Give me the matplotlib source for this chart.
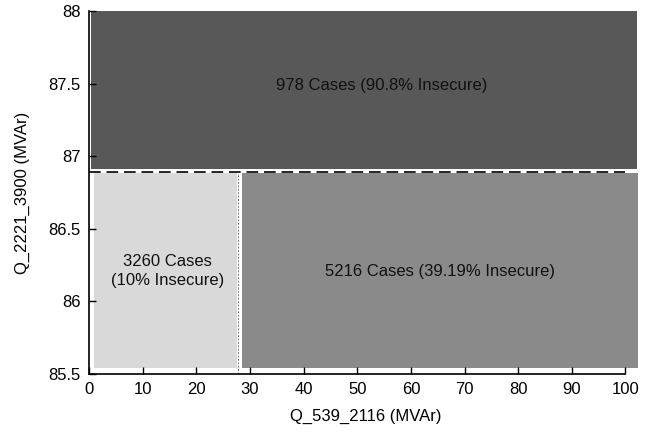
import matplotlib.pyplot as plt
from matplotlib.patches import Rectangle

plt.rcParams['font.family'] = ['Liberation Sans', 'DejaVu Sans']

# regions: x0, x1, y0, y1
region_x0 = [0.3, 1.0, 28.6]
region_x1 = [102.2, 27.6, 102.3]
region_y0 = [86.91, 85.54, 85.54]
region_y1 = [88.0, 86.885, 86.885]
region_colors = ['#585858', '#d9d9d9', '#8a8a8a']
region_labels = ['978 Cases (90.8% Insecure)', '3260 Cases\n(10% Insecure)', '5216 Cases (39.19% Insecure)']
label_x = [54.5, 14.7, 65.5]
label_y = [87.488, 86.21, 86.204]

split_y = 86.895   # Q_2221_3900 split
split_x = 27.75    # Q_539_2116 split

xticks = [0, 10, 20, 30, 40, 50, 60, 70, 80, 90, 100]
yticks = [85.5, 86, 86.5, 87, 87.5, 88]
ytick_labels = ['85.5', '86', '86.5', '87', '87.5', '88']


def main():
    fig = plt.figure(figsize=(6.57, 4.32), dpi=100)
    ax = fig.add_axes([0.1355, 0.134, 0.841, 0.8405])

    for x0, x1, y0, y1, c in zip(region_x0, region_x1, region_y0, region_y1, region_colors):
        ax.add_patch(Rectangle((x0, y0), x1 - x0, y1 - y0, facecolor=c, edgecolor='none', zorder=1))

    ax.plot([0, 100], [split_y, split_y], color='black', linestyle=(0, (7, 3.5)), linewidth=1.2, zorder=2)
    ax.plot([split_x, split_x], [85.5, split_y - 0.01], color='#777777', linestyle=(0, (2, 1.5)),
            linewidth=0.7, zorder=2)

    for t, x, y in zip(region_labels, label_x, label_y):
        ax.text(x, y, t, ha='center', va='center', fontsize=12, color='#111111',
                linespacing=1.3, zorder=3)

    ax.set_xlim(0, 103)
    ax.set_ylim(85.5, 88)
    ax.set_xticks(xticks)
    ax.set_yticks(yticks)
    ax.set_yticklabels(ytick_labels)
    ax.spines['top'].set_visible(False)
    ax.spines['right'].set_visible(False)
    ax.spines['bottom'].set_bounds(0, 100)
    ax.spines['left'].set_linewidth(1.2)
    ax.spines['bottom'].set_linewidth(1.2)
    ax.tick_params(direction='in', length=5, width=1, labelsize=12, pad=6)
    ax.set_xlabel('Q_539_2116 (MVAr)', fontsize=12, labelpad=8)
    ax.set_ylabel('Q_2221_3900 (MVAr)', fontsize=12, labelpad=13)

    fig.savefig('out.png', dpi=100)


if __name__ == "__main__":
    main()
